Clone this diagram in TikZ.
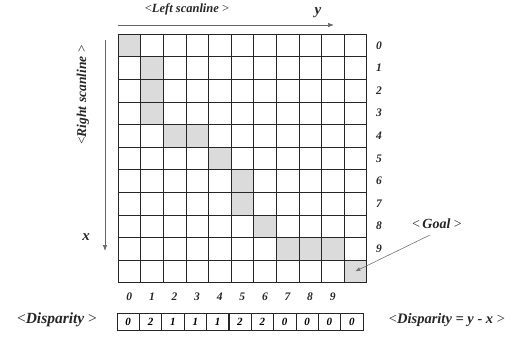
\documentclass[tikz,border=0pt]{standalone}
\usepackage{fontspec}
\setmainfont{Liberation Serif}
\usetikzlibrary{arrows.meta}
\newcommand{\lt}{{\normalfont<}}
\newcommand{\gt}{{\normalfont>}}
\begin{document}
\begin{tikzpicture}[x=1pt,y=-1pt,
  cell/.style={draw=black!85, line width=0.6pt, minimum size=22.6pt, inner sep=0pt, outer sep=0pt},
  dbox/.style={draw=black!85, line width=0.6pt, minimum width=22.4pt, minimum height=17pt, inner sep=0pt, outer sep=0pt, font=\fontsize{11}{12}\selectfont\bfseries\itshape},
  lbl/.style={font=\fontsize{11.5}{12}\selectfont\bfseries\itshape, inner sep=0pt, text=black!85},
  big/.style={font=\fontsize{12.5}{14}\selectfont\bfseries\itshape, inner sep=0pt, text=black!85},
  axis/.style={draw=black!60, line width=0.7pt, -{Latex[length=6pt,width=4.5pt]}},
  ptr/.style={draw=black!55, line width=0.6pt, -{Latex[length=5pt,width=4pt]}}
]
\useasboundingbox (0,0) rectangle (526,341);
% highlighted cells
\foreach \r/\c in {0/0,1/1,2/1,3/1,4/2,4/3,5/4,6/5,7/5,8/6,9/7,9/8,9/9,10/10}
  \fill[black!14] ({118+22.6*\c},{34+22.6*\r}) rectangle ++(22.6,22.6);
% grid cells
\foreach \r in {0,...,10}
  \foreach \c in {0,...,10}
    \node[cell] (c-\r-\c) at ({118+22.6*(\c+0.5)},{34+22.6*(\r+0.5)}) {};
% row labels
\foreach \r in {0,...,9}
  \node[lbl] (rl-\r) at (379,{34+22.6*(\r+0.5)}) {\r};
% column labels
\foreach \c in {0,...,9}
  \node[lbl] (cl-\c) at ({118+22.6*(\c+0.5)},297) {\c};
% axes
\coordinate (ya) at (118,25);
\coordinate (yb) at (334,25);
\draw[axis] (ya) -- (yb);
\node[big, font=\fontsize{15}{16}\selectfont\bfseries\itshape] (yl) at (318,13) {y};
\node[big] (lsl) at (187,9) {\lt Left scanline \gt};
\coordinate (xa) at (105,40);
\coordinate (xb) at (105,251);
\draw[axis] (xa) -- (xb);
\node[big, font=\fontsize{15}{16}\selectfont\bfseries\itshape] (xl) at (86,237) {x};
\node[big, rotate=90, font=\fontsize{13.5}{14}\selectfont\bfseries\itshape] (rsl) at (83,95) {\lt Right scanline \gt};
% goal
\node[big, font=\fontsize{14}{16}\selectfont\bfseries\itshape] (goal) at (437,224) {\lt\,Goal \gt};
\draw[ptr] (430,235) -- (c-10-10.center);
% disparity row
\foreach \v [count=\i from 0] in {0,2,1,1,1,2,2,0,0,0,0}
  \node[dbox] (d-\i) at ({117+22.36*(\i+0.5)},321.5) {\v};
\node[big, font=\fontsize{15.5}{16}\selectfont\bfseries\itshape] (dl) at (57,320) {\lt Disparity \gt};
\node[big, font=\fontsize{14.5}{16}\selectfont\bfseries\itshape] (dr) at (447,320) {\lt Disparity = y - x \gt};
\end{tikzpicture}
\end{document}
